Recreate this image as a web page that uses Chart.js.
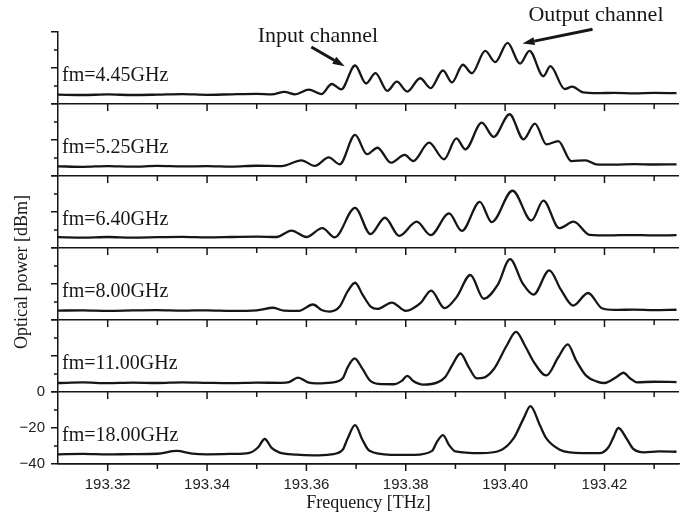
<!DOCTYPE html>
<html>
<head>
<meta charset="utf-8">
<title>Optical spectra</title>
<script src="https://cdn.jsdelivr.net/npm/chart.js@4.4.0/dist/chart.umd.min.js"></script>
<style>
  html, body { margin: 0; padding: 0; background: #fff; }
</style>
</head>
<body>
<canvas id="spectra" width="692" height="514"></canvas>
<script>
// traces, [frequency THz, power dBm]
const fm445 = [[193.310,-34.8],[193.315,-35.0],[193.320,-34.7],[193.325,-35.0],[193.330,-34.8],[193.335,-34.5],[193.340,-34.9],[193.345,-34.6],[193.350,-34.4],[193.353,-34.7],[193.3556,-33.3],[193.3577,-34.6],[193.3605,-32.0],[193.3630,-34.5],[193.3651,-28.9],[193.3670,-31.9],[193.3698,-18.6],[193.3720,-28.6],[193.3739,-22.9],[193.3763,-32.7],[193.3782,-27.6],[193.3803,-33.1],[193.3829,-25.7],[193.3850,-31.2],[193.3875,-21.4],[193.3893,-28.0],[193.3915,-18.2],[193.3933,-22.9],[193.3960,-10.5],[193.3980,-16.7],[193.4005,-6.0],[193.4030,-17.6],[193.4049,-10.5],[193.4077,-24.6],[193.4091,-19.0],[193.4120,-31.7],[193.4135,-30.4],[193.4157,-33.6],[193.4185,-34.0],[193.4220,-33.8],[193.4260,-34.1],[193.4300,-33.8],[193.4345,-34.0]];
const fm525 = [[193.310,-34.6],[193.315,-34.9],[193.320,-34.5],[193.325,-34.8],[193.330,-34.4],[193.335,-34.7],[193.340,-34.5],[193.345,-34.8],[193.350,-34.3],[193.355,-34.5],[193.359,-31.3],[193.3617,-34.4],[193.3645,-29.6],[193.3667,-33.5],[193.3698,-17.2],[193.3722,-27.9],[193.3743,-24.3],[193.3770,-32.6],[193.3798,-28.3],[193.3815,-31.7],[193.3847,-21.5],[193.3877,-30.7],[193.3902,-19.1],[193.3920,-25.2],[193.3953,-10.4],[193.3977,-18.3],[193.4009,-5.7],[193.4037,-19.6],[193.4060,-10.9],[193.4083,-22.4],[193.4107,-20.6],[193.4133,-31.7],[193.4162,-31.3],[193.4183,-33.5],[193.4220,-33.7],[193.4260,-33.4],[193.4300,-33.6],[193.4345,-33.5]];
const fm640 = [[193.310,-34.0],[193.315,-34.2],[193.320,-33.9],[193.325,-34.2],[193.330,-34.0],[193.335,-33.8],[193.340,-34.1],[193.345,-33.9],[193.350,-33.7],[193.354,-33.9],[193.357,-30.3],[193.360,-33.9],[193.3632,-29.0],[193.3657,-34.1],[193.3698,-17.7],[193.3729,-32.3],[193.3758,-23.2],[193.3787,-33.3],[193.3822,-25.4],[193.3850,-32.9],[193.3887,-20.8],[193.3913,-30.5],[193.3949,-14.4],[193.3973,-25.6],[193.4015,-8.2],[193.4053,-24.7],[193.4077,-13.7],[193.4109,-29.0],[193.4138,-25.4],[193.4170,-32.7],[193.4210,-33.0],[193.4250,-32.8],[193.4300,-33.0],[193.4345,-32.9]];
const fm800 = [[193.310,-34.8],[193.315,-34.6],[193.320,-34.9],[193.325,-34.7],[193.330,-34.5],[193.335,-34.8],[193.340,-34.6],[193.345,-34.9],[193.350,-34.6],[193.3533,-33.2],[193.3555,-34.8],[193.3585,-34.9],[193.3613,-31.4],[193.3632,-34.6],[193.3647,-35.3],[193.3667,-32.5],[193.3683,-24.1],[193.3698,-19.3],[193.3713,-25.9],[193.3730,-32.7],[193.3743,-33.8],[193.3772,-30.3],[193.3800,-34.9],[193.3830,-30.5],[193.3851,-23.7],[193.3878,-33.4],[193.3903,-27.0],[193.3930,-15.0],[193.3957,-28.2],[193.3985,-20.5],[193.4010,-6.2],[193.4035,-19.5],[193.4057,-25.9],[193.4089,-12.4],[193.4112,-23.0],[193.4137,-32.0],[193.4167,-25.0],[193.4195,-33.5],[193.4220,-34.4],[193.4260,-34.2],[193.4300,-34.5],[193.4345,-34.3]];
const fm1100 = [[193.310,-35.0],[193.315,-34.7],[193.320,-35.1],[193.325,-34.8],[193.330,-35.0],[193.335,-34.6],[193.340,-34.9],[193.345,-35.1],[193.350,-34.8],[193.355,-34.9],[193.3565,-34.5],[193.3583,-32.0],[193.3603,-34.6],[193.3620,-35.2],[193.3650,-34.8],[193.3673,-32.4],[193.3683,-26.3],[193.3697,-21.3],[193.3713,-27.2],[193.3727,-33.3],[193.3745,-35.5],[193.3775,-35.7],[193.3792,-33.8],[193.3803,-31.0],[193.3815,-33.9],[193.3835,-35.9],[193.3865,-34.5],[193.3880,-31.5],[193.3893,-25.4],[193.3910,-18.6],[193.3927,-26.3],[193.3943,-32.4],[193.3955,-32.2],[193.3977,-27.4],[193.4003,-14.3],[193.4022,-6.6],[193.4040,-14.3],[193.4057,-23.0],[193.4083,-30.8],[193.4107,-20.7],[193.4126,-13.5],[193.4143,-22.5],[193.4163,-30.9],[193.4185,-34.2],[193.4200,-35.0],[193.4225,-31.5],[193.4238,-29.3],[193.4252,-32.5],[193.4265,-34.6],[193.4300,-34.3],[193.4345,-34.5]];
const fm1800 = [[193.310,-34.6],[193.315,-34.4],[193.320,-34.7],[193.325,-34.5],[193.330,-34.3],[193.3339,-32.7],[193.337,-34.2],[193.340,-34.6],[193.345,-34.4],[193.3485,-33.8],[193.3503,-30.7],[193.3516,-26.1],[193.3530,-31.0],[193.3545,-33.5],[193.3580,-34.8],[193.3613,-35.2],[193.3650,-34.6],[193.3673,-32.1],[193.3683,-25.8],[193.3698,-18.4],[193.3713,-26.7],[193.3727,-32.7],[193.3770,-34.9],[193.3817,-34.9],[193.3853,-32.7],[193.3863,-27.6],[193.3875,-24.0],[193.3887,-29.4],[193.3900,-33.0],[193.3950,-34.0],[193.3990,-32.5],[193.4017,-25.8],[193.4037,-14.8],[193.4051,-7.8],[193.4070,-18.5],[193.4083,-25.8],[193.4110,-32.1],[193.4130,-33.5],[193.4190,-34.0],[193.4208,-30.7],[193.4218,-25.2],[193.4228,-20.0],[193.4245,-26.1],[193.4258,-31.6],[193.4280,-33.5],[193.4310,-33.0],[193.4345,-33.2]];

// bottom panel first: Chart.js stacks the first axis lowest
const panelIds = ['p1800', 'p1100', 'p800', 'p640', 'p525', 'p445'];
const panelNames = ['fm=18.00GHz', 'fm=11.00GHz', 'fm=8.00GHz', 'fm=6.40GHz', 'fm=5.25GHz', 'fm=4.45GHz'];
const panelData = [fm1800, fm1100, fm800, fm640, fm525, fm445];

const xMin = 193.310, xMax = 193.435;
const xTickValues = [193.32, 193.34, 193.36, 193.38, 193.40, 193.42];
const xTickLabels = ['193.32', '193.34', '193.36', '193.38', '193.40', '193.42'];
const xMinorValues = [193.33, 193.35, 193.37, 193.39, 193.41, 193.43];
const yTickValues = [-40, -20, 0];
const yTickLabels = ['\u221240', '\u221220', '0'];
const yMinorValues = [-30, -10];

const ink = '#161616';
const serif = '"Liberation Serif", "DejaVu Serif", serif';
const sans = '"Liberation Sans", Arial, sans-serif';

const datasets = panelIds.map((id, i) => ({
  label: panelNames[i],
  data: panelData[i].map(p => ({ x: p[0], y: p[1] })),
  yAxisID: id,
  borderColor: ink,
  borderWidth: 2.3,
  pointRadius: 0,
  fill: false,
  cubicInterpolationMode: 'monotone'
}));

const scales = {
  x: {
    type: 'linear',
    min: xMin,
    max: xMax,
    afterBuildTicks: s => { s.ticks = xTickValues.map(v => ({ value: v })); },
    afterFit: s => { s.height = 50; },
    grid: { display: false, tickLength: 7 },
    border: { color: ink, width: 1.5 },
    ticks: {
      autoSkip: false,
      callback: (v, i) => xTickLabels[i],
      font: { family: sans, size: 15 },
      color: '#222',
      padding: 5,
      maxRotation: 0
    },
    title: {
      display: true,
      text: 'Frequency [THz]',
      font: { family: serif, size: 18 },
      color: ink,
      padding: { top: 0, bottom: 0 }
    }
  }
};

panelIds.forEach((id, i) => {
  scales[id] = {
    type: 'linear',
    position: 'left',
    stack: 'panels',
    stackWeight: 1,
    min: -40,
    max: 0,
    afterBuildTicks: s => { s.ticks = yTickValues.map(v => ({ value: v })); },
    afterFit: s => { s.width = 58; },
    border: { color: ink, width: 1.5 },
    grid: {
      color: c => (c.tick && c.tick.value === -40 ? ink : 'rgba(0,0,0,0)'),
      lineWidth: 1.5,
      tickColor: ink,
      tickWidth: 1.5,
      tickLength: 7
    },
    ticks: {
      display: i === 0,
      autoSkip: false,
      callback: (v, k) => yTickLabels[k],
      font: { family: sans, size: 15 },
      color: '#222',
      padding: 6
    }
  };
});

function arrow(ctx, x1, y1, x2, y2) {
  const a = Math.atan2(y2 - y1, x2 - x1);
  const head = 12, half = 4;
  const bx = x2 - head * Math.cos(a), by = y2 - head * Math.sin(a);
  ctx.beginPath();
  ctx.moveTo(x1, y1);
  ctx.lineTo(bx, by);
  ctx.stroke();
  ctx.beginPath();
  ctx.moveTo(x2, y2);
  ctx.lineTo(bx + half * Math.sin(a), by - half * Math.cos(a));
  ctx.lineTo(bx - half * Math.sin(a), by + half * Math.cos(a));
  ctx.closePath();
  ctx.fill();
}

const decor = {
  id: 'decor',
  afterDraw(chart) {
    const ctx = chart.ctx;
    const x = chart.scales.x;
    ctx.save();
    ctx.strokeStyle = ink;
    ctx.fillStyle = ink;
    ctx.lineWidth = 1.5;

    panelIds.forEach((id, i) => {
      const y = chart.scales[id];
      const yb = y.getPixelForValue(-40);
      ctx.beginPath();
      xTickValues.forEach(v => {
        const px = x.getPixelForValue(v);
        ctx.moveTo(px, yb);
        ctx.lineTo(px, yb + 7);
      });
      xMinorValues.forEach(v => {
        const px = x.getPixelForValue(v);
        ctx.moveTo(px, yb);
        ctx.lineTo(px, yb + 5);
      });
      yMinorValues.forEach(v => {
        const py = y.getPixelForValue(v);
        ctx.moveTo(x.left - 4, py);
        ctx.lineTo(x.left, py);
      });
      ctx.stroke();

      ctx.font = '20px ' + serif;
      ctx.textAlign = 'left';
      ctx.textBaseline = 'alphabetic';
      ctx.fillText(panelNames[i], x.left + 4, y.getPixelForValue(-27));
    });

    // axis title on the left
    ctx.save();
    ctx.translate(22, 272);
    ctx.rotate(-Math.PI / 2);
    ctx.font = '18px ' + serif;
    ctx.textAlign = 'center';
    ctx.textBaseline = 'middle';
    ctx.fillText('Optical power [dBm]', 0, 0);
    ctx.restore();

    // channel call-outs on the top panel
    const top = chart.scales.p445;
    ctx.font = '22px ' + serif;
    ctx.textAlign = 'left';
    ctx.textBaseline = 'alphabetic';
    ctx.fillText('Input channel', x.getPixelForValue(193.3502), top.getPixelForValue(-5.5));
    ctx.fillText('Output channel', x.getPixelForValue(193.4047), top.getPixelForValue(6.2));
    ctx.lineWidth = 3;
    arrow(ctx, x.getPixelForValue(193.3610), top.getPixelForValue(-8.3),
      x.getPixelForValue(193.3677), top.getPixelForValue(-19.0));
    arrow(ctx, x.getPixelForValue(193.4176), top.getPixelForValue(1.5),
      x.getPixelForValue(193.4035), top.getPixelForValue(-6.4));
    ctx.restore();
  }
};

new Chart(document.getElementById('spectra'), {
  type: 'line',
  data: { datasets },
  options: {
    responsive: false,
    animation: false,
    layout: { padding: { top: 32, right: 13, left: 0, bottom: 0 } },
    plugins: { legend: { display: false }, tooltip: { enabled: false } },
    scales
  },
  plugins: [decor]
});
</script>
</body>
</html>
